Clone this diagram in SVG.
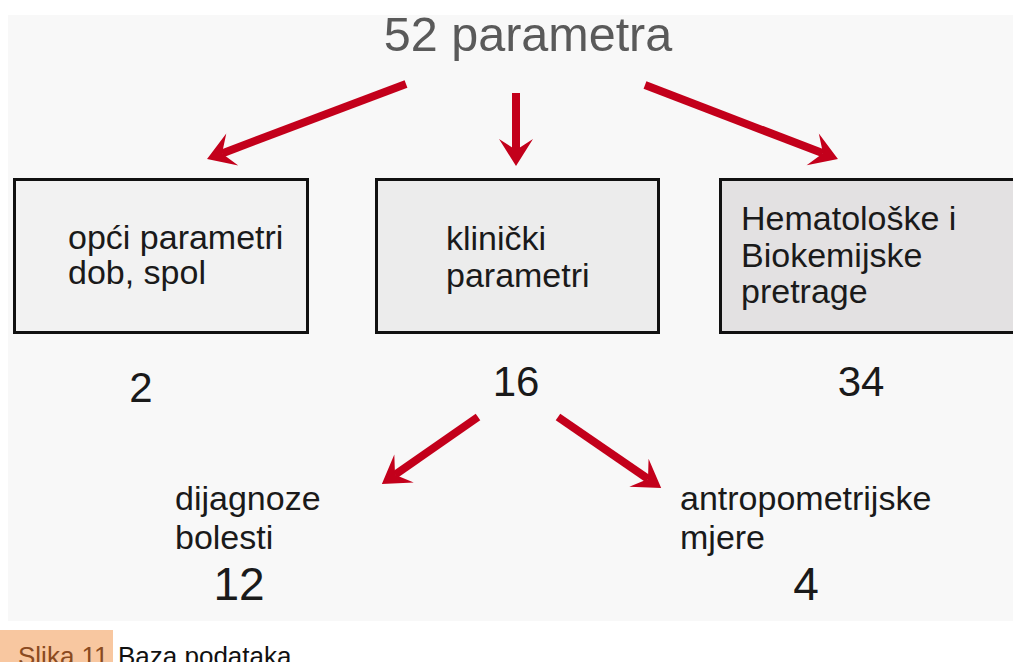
<svg xmlns="http://www.w3.org/2000/svg" width="1013" height="662" viewBox="0 0 1013 662">
<style>
text{font-family:"Liberation Sans",Arial,sans-serif;fill:#1a1a1a}
.lbl{font-size:34px}
.num{font-size:42px}
.box{stroke:#111;stroke-width:3}
.arr{stroke:#c3001b;stroke-width:8;fill:none}
</style>
<defs>
<marker id="ah" markerUnits="userSpaceOnUse" viewBox="-12 -18 30 36" markerWidth="30" markerHeight="36" refX="0" refY="0" orient="auto" overflow="visible">
<path d="M16,0 L-11,-17 L0,0 L-11,17 Z" fill="#c3001b"/>
</marker>
</defs>
<rect x="0" y="0" width="1013" height="662" fill="#ffffff"/>
<rect x="8" y="15" width="1005" height="606" fill="#f8f8f8"/>
<g id="title"><text x="528" y="51" text-anchor="middle" style="font-size:48.5px;fill:#5a5a5a">52 parametra</text></g>
<g id="node-opci">
<rect class="box" x="14.5" y="179.5" width="293" height="153" fill="#f2f2f2"/>
<text class="lbl" x="68" y="249">opći parametri</text>
<text class="lbl" x="68" y="284">dob, spol</text>
</g>
<g id="node-klinicki">
<rect class="box" x="376.5" y="179.5" width="282" height="153" fill="#ececec"/>
<text class="lbl" x="446" y="250">klinički</text>
<text class="lbl" x="446" y="287">parametri</text>
</g>
<g id="node-hemato">
<rect class="box" x="720.5" y="179.5" width="300" height="153" fill="#e3e1e2"/>
<text class="lbl" x="741" y="230">Hematološke i</text>
<text class="lbl" x="741" y="267">Biokemijske</text>
<text class="lbl" x="741" y="303">pretrage</text>
</g>
<g id="num-2"><text class="num" x="141" y="402" text-anchor="middle">2</text></g>
<g id="num-16"><text class="num" x="516" y="396" text-anchor="middle">16</text></g>
<g id="num-34"><text class="num" x="861" y="396" text-anchor="middle">34</text></g>
<g id="node-dijagnoze">
<text class="lbl" x="175" y="510">dijagnoze</text>
<text class="lbl" x="175" y="549">bolesti</text>
<text class="num" x="239" y="600" text-anchor="middle" style="font-size:46px">12</text>
</g>
<g id="node-antropo">
<text class="lbl" x="680" y="510">antropometrijske</text>
<text class="lbl" x="680" y="549">mjere</text>
<text class="num" x="806" y="600" text-anchor="middle" style="font-size:46px">4</text>
</g>
<g id="connectors">
<line class="arr" x1="406" y1="84" x2="222" y2="153.4" marker-end="url(#ah)"/>
<line class="arr" x1="516" y1="93" x2="516" y2="150" marker-end="url(#ah)"/>
<line class="arr" x1="645" y1="85" x2="823" y2="153.3" marker-end="url(#ah)"/>
<line class="arr" x1="478" y1="417" x2="395" y2="474.8" marker-end="url(#ah)"/>
<line class="arr" x1="558" y1="417" x2="648" y2="478.9" marker-end="url(#ah)"/>
</g>
<g id="caption">
<rect x="0" y="630" width="113" height="32" fill="#f8c7a0"/>
<text x="18" y="665" style="font-size:26px;fill:#8a4a20">Slika 11</text>
<text x="118" y="665" style="font-size:26px;fill:#111">Baza podataka</text>
</g>
</svg>
